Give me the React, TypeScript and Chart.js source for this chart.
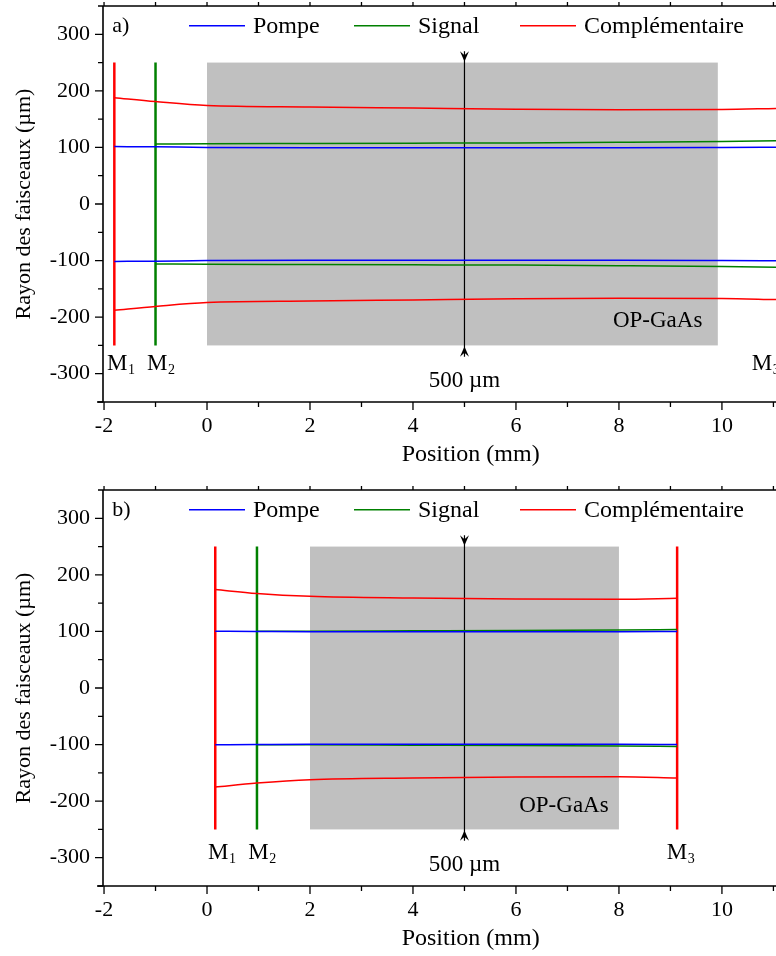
import React, { useEffect, useRef } from "react";
import { Chart, registerables } from "chart.js";

Chart.register(...registerables);

const FONT = '"Liberation Serif", "Times New Roman", serif';

// ---------- axes ----------
const X_MIN = -2.02;
const X_MAX = 11.05;
const Y_MIN = -350;
const Y_MAX = 350;
const X_TITLE = "Position (mm)";
const Y_TITLE = "Rayon des faisceaux (µm)";
const LEGEND_LABELS = ["Pompe", "Signal", "Complémentaire"];

// ---------- panel a ----------
const A_PUMP_X = [-1.8, -1, 0, 2, 4, 6, 8, 10, 11.05];
const A_PUMP_TOP = [101.5, 101, 100, 99.5, 99.5, 99.5, 99.5, 100, 100.5];
const A_PUMP_BOTTOM = [-101.5, -101, -100, -99.5, -99.5, -99.5, -99.5, -100, -100.5];
const A_SIGNAL_X = [-1, 0, 2, 4, 6, 8, 10, 11.05];
const A_SIGNAL_TOP = [106, 106.5, 107, 107.5, 108, 109, 110.5, 112];
const A_SIGNAL_BOTTOM = [-106, -106.5, -107, -107.5, -108, -109, -110.5, -112];
const A_IDLER_X = [-1.8, -1, 0, 2, 4, 6, 8, 10, 11.05];
const A_IDLER_TOP = [188, 181, 174, 171.5, 169.5, 167.5, 166.5, 167, 169];
const A_IDLER_BOTTOM = [-188, -181, -174, -171.5, -169.5, -167.5, -166.5, -167, -169];
const A_MIRROR_X = [-1.8, -1.0];
const A_MIRROR_LABEL_X = [-1.94, -1.165, 10.58];
const A_MIRROR_LABEL_Y = -283;
const A_CRYSTAL = [0, 9.92];
const A_CRYSTAL_LABEL = [9.62, -206];

// ---------- panel b ----------
const B_PUMP_X = [0.16, 0.97, 2, 4, 6, 8, 9.13];
const B_PUMP_TOP = [100.5, 100, 99.5, 99.5, 99.5, 99.5, 100];
const B_PUMP_BOTTOM = [-100.5, -100, -99.5, -99.5, -99.5, -99.5, -100];
const B_SIGNAL_X = [0.97, 2, 4, 6, 8, 9.13];
const B_SIGNAL_TOP = [100.5, 100.5, 101, 101.5, 102.5, 103.5];
const B_SIGNAL_BOTTOM = [-100.5, -100.5, -101, -101.5, -102.5, -103.5];
const B_IDLER_X = [0.16, 0.97, 2, 4, 6, 8, 9.13];
const B_IDLER_TOP = [174, 167, 162, 159, 157.5, 157, 158.5];
const B_IDLER_BOTTOM = [-175, -168, -162, -159, -157.5, -157, -159];
const B_MIRROR_X = [0.16, 0.97, 9.13];
const B_MIRROR_LABEL_X = [0.02, 0.8, 8.93];
const B_MIRROR_LABEL_Y = -292;
const B_CRYSTAL = [2, 8];
const B_CRYSTAL_LABEL = [7.8, -208];

// ---------- shared annotations ----------
const MIRROR_HALF = 250;
const CRYSTAL_HALF = 250;
const MIRROR_SUBS = ["1", "2", "3"];
const MARKER_X = 5;
const MARKER_TIP = 252;
const MARKER_END = 270;
const MARKER_LABEL = "500 µm";
const MARKER_LABEL_Y = -312;
const CRYSTAL_NAME = "OP-GaAs";
const PANEL_LABEL_POS = [-1.84, 315];
const LEGEND_Y = 315;

const BLUE = "#0000ff";
const GREEN = "#008000";
const RED = "#ff0000";

const W = 776;
const H = 484;

function pts(xs: number[], ys: number[]) {
  return xs.map((x, i) => ({ x, y: ys[i] }));
}

function curve(xs: number[], ys: number[], color: string) {
  return {
    data: pts(xs, ys),
    borderColor: color,
    backgroundColor: color,
    borderWidth: 1.5,
    pointRadius: 0,
    showLine: true,
    cubicInterpolationMode: "monotone" as const,
    fill: false,
  };
}

function vline(x: number, y0: number, y1: number, color: string, width: number) {
  return {
    data: [
      { x, y: y0 },
      { x, y: y1 },
    ],
    borderColor: color,
    backgroundColor: color,
    borderWidth: width,
    pointRadius: 0,
    showLine: true,
    fill: false,
  };
}

type PanelCfg = {
  letter: string;
  pump: [number[], number[], number[]];
  signal: [number[], number[], number[]];
  idler: [number[], number[], number[]];
  mirrors: number[];
  mirrorColors: string[];
  mirrorLabelX: number[];
  mirrorLabelY: number;
  crystal: number[];
  crystalLabel: number[];
};

function makePlugin(cfg: PanelCfg) {
  return {
    id: "decor",
    beforeDatasetsDraw(chart: any) {
      const { ctx, scales } = chart;
      const x = scales.x;
      const y = scales.y;
      const x0 = x.getPixelForValue(cfg.crystal[0]);
      const x1 = x.getPixelForValue(cfg.crystal[1]);
      const y0 = y.getPixelForValue(CRYSTAL_HALF);
      const y1 = y.getPixelForValue(-CRYSTAL_HALF);
      ctx.save();
      ctx.fillStyle = "#c0c0c0";
      ctx.fillRect(x0, y0, x1 - x0, y1 - y0);
      ctx.restore();
    },
    afterDatasetsDraw(chart: any) {
      const { ctx, scales, chartArea: ca } = chart;
      const x = scales.x;
      const y = scales.y;
      ctx.save();
      // arrowheads of beam marker
      const mx = x.getPixelForValue(MARKER_X);
      const head = (tipVal: number, endVal: number) => {
        const tip = y.getPixelForValue(tipVal);
        const end = y.getPixelForValue(endVal);
        const dir = Math.sign(tip - end);
        const len = Math.abs(tip - end);
        ctx.beginPath();
        ctx.moveTo(mx, tip);
        ctx.lineTo(mx - 4.5, tip - dir * len);
        ctx.lineTo(mx, tip - dir * len * 0.6);
        ctx.lineTo(mx + 4.5, tip - dir * len);
        ctx.closePath();
        ctx.fillStyle = "#000";
        ctx.fill();
      };
      head(MARKER_TIP, MARKER_END);
      head(-MARKER_TIP, -MARKER_END);

      ctx.fillStyle = "#000";
      ctx.textBaseline = "middle";
      ctx.font = `23px ${FONT}`;
      ctx.textAlign = "center";
      ctx.fillText(MARKER_LABEL, mx, y.getPixelForValue(MARKER_LABEL_Y));

      ctx.textAlign = "right";
      ctx.fillText(
        CRYSTAL_NAME,
        x.getPixelForValue(cfg.crystalLabel[0]),
        y.getPixelForValue(cfg.crystalLabel[1])
      );

      // mirror labels
      cfg.mirrorLabelX.forEach((lx, i) => {
        const px = x.getPixelForValue(lx);
        const py = y.getPixelForValue(cfg.mirrorLabelY);
        ctx.textAlign = "left";
        ctx.font = `23px ${FONT}`;
        ctx.fillText("M", px, py);
        const w = ctx.measureText("M").width;
        ctx.font = `14px ${FONT}`;
        ctx.fillText(MIRROR_SUBS[i], px + w + 0.5, py + 6);
      });

      // panel letter
      ctx.font = `22px ${FONT}`;
      ctx.textAlign = "left";
      ctx.fillText(
        cfg.letter,
        x.getPixelForValue(PANEL_LABEL_POS[0]),
        y.getPixelForValue(PANEL_LABEL_POS[1])
      );

      // legend
      const colors = [BLUE, GREEN, RED];
      const starts = [86, 251, 417];
      const ly = y.getPixelForValue(LEGEND_Y);
      ctx.font = `24px ${FONT}`;
      LEGEND_LABELS.forEach((lab, i) => {
        const sx = ca.left + starts[i];
        ctx.strokeStyle = colors[i];
        ctx.lineWidth = 1.5;
        ctx.beginPath();
        ctx.moveTo(sx, ly);
        ctx.lineTo(sx + 56, ly);
        ctx.stroke();
        ctx.fillStyle = "#000";
        ctx.textAlign = "left";
        ctx.fillText(lab, sx + 64, ly + 1);
      });
      ctx.restore();
    },
    afterDraw(chart: any) {
      const { ctx, scales, chartArea: ca } = chart;
      const x = scales.x;
      const y = scales.y;
      ctx.save();
      ctx.strokeStyle = "#000";
      ctx.lineWidth = 1.6;
      ctx.beginPath();
      ctx.moveTo(ca.left, ca.top);
      ctx.lineTo(ca.right, ca.top);
      ctx.moveTo(ca.left, ca.top);
      ctx.lineTo(ca.left, ca.bottom);
      ctx.moveTo(ca.left - 6, ca.bottom);
      ctx.lineTo(ca.right, ca.bottom);
      ctx.stroke();
      ctx.lineWidth = 1.3;
      ctx.beginPath();
      for (const t of x.ticks) {
        const px = x.getPixelForValue(t.value);
        const major = Math.abs(t.value % 2) < 1e-9;
        ctx.moveTo(px, ca.bottom);
        ctx.lineTo(px, ca.bottom + (major ? 8 : 5));
        ctx.moveTo(px, ca.top);
        ctx.lineTo(px, ca.top - 4);
      }
      for (const t of y.ticks) {
        const py = y.getPixelForValue(t.value);
        const major = Math.abs(t.value % 100) < 1e-9;
        ctx.moveTo(ca.left, py);
        ctx.lineTo(ca.left - (major ? 8 : 5), py);
      }
      ctx.stroke();

      // axis titles
      ctx.fillStyle = "#000";
      ctx.font = `24px ${FONT}`;
      ctx.textAlign = "center";
      ctx.textBaseline = "alphabetic";
      ctx.fillText(X_TITLE, x.getPixelForValue(5.12), ca.bottom + 59);
      ctx.translate(24, (ca.top + ca.bottom) / 2);
      ctx.rotate(-Math.PI / 2);
      ctx.font = `22px ${FONT}`;
      ctx.textBaseline = "middle";
      ctx.fillText(Y_TITLE, 0, 0);
      ctx.restore();
    },
  };
}

function Panel({ cfg }: { cfg: PanelCfg }) {
  const ref = useRef<HTMLCanvasElement | null>(null);
  useEffect(() => {
    if (!ref.current) return;
    const datasets: any[] = [
      curve(cfg.pump[0], cfg.pump[1], BLUE),
      curve(cfg.pump[0], cfg.pump[2], BLUE),
      curve(cfg.signal[0], cfg.signal[1], GREEN),
      curve(cfg.signal[0], cfg.signal[2], GREEN),
      curve(cfg.idler[0], cfg.idler[1], RED),
      curve(cfg.idler[0], cfg.idler[2], RED),
    ];
    cfg.mirrors.forEach((mx, i) => {
      datasets.push(vline(mx, -MIRROR_HALF, MIRROR_HALF, cfg.mirrorColors[i], 2.5));
    });
    datasets.push(vline(MARKER_X, -MARKER_END, MARKER_END, "#000", 1.2));

    const chart = new Chart(ref.current, {
      type: "scatter",
      data: { datasets },
      options: {
        animation: false,
        responsive: false,
        devicePixelRatio: 1,
        layout: { padding: { top: 6, left: 0, right: 0, bottom: 0 } },
        plugins: { legend: { display: false }, tooltip: { enabled: false } },
        scales: {
          x: {
            type: "linear",
            min: X_MIN,
            max: X_MAX,
            grid: { display: false, drawTicks: false },
            border: { display: false },
            ticks: {
              stepSize: 1,
              includeBounds: false,
              autoSkip: false,
              maxRotation: 0,
              padding: 11,
              color: "#000",
              font: { family: FONT, size: 22 },
              callback: (v: any) => (Math.abs(Number(v) % 2) < 1e-9 ? String(v) : ""),
            },
            afterFit: (s: any) => {
              s.height = H - 402;
              s.paddingLeft = 0;
              s.paddingRight = 0;
            },
          },
          y: {
            type: "linear",
            min: Y_MIN,
            max: Y_MAX,
            grid: { display: false, drawTicks: false },
            border: { display: false },
            ticks: {
              stepSize: 50,
              autoSkip: false,
              padding: 13,
              color: "#000",
              font: { family: FONT, size: 22 },
              callback: (v: any) => (Math.abs(Number(v) % 100) < 1e-9 ? String(v) : ""),
            },
            afterFit: (s: any) => {
              s.width = 103;
              s.paddingTop = 0;
              s.paddingBottom = 0;
            },
          },
        },
      } as any,
      plugins: [makePlugin(cfg)],
    });
    return () => chart.destroy();
  }, [cfg]);
  return <canvas ref={ref} width={W} height={H} style={{ display: "block" }} />;
}

const PANEL_A: PanelCfg = {
  letter: "a)",
  pump: [A_PUMP_X, A_PUMP_TOP, A_PUMP_BOTTOM],
  signal: [A_SIGNAL_X, A_SIGNAL_TOP, A_SIGNAL_BOTTOM],
  idler: [A_IDLER_X, A_IDLER_TOP, A_IDLER_BOTTOM],
  mirrors: A_MIRROR_X,
  mirrorColors: [RED, GREEN],
  mirrorLabelX: A_MIRROR_LABEL_X,
  mirrorLabelY: A_MIRROR_LABEL_Y,
  crystal: A_CRYSTAL,
  crystalLabel: A_CRYSTAL_LABEL,
};

const PANEL_B: PanelCfg = {
  letter: "b)",
  pump: [B_PUMP_X, B_PUMP_TOP, B_PUMP_BOTTOM],
  signal: [B_SIGNAL_X, B_SIGNAL_TOP, B_SIGNAL_BOTTOM],
  idler: [B_IDLER_X, B_IDLER_TOP, B_IDLER_BOTTOM],
  mirrors: B_MIRROR_X,
  mirrorColors: [RED, GREEN, RED],
  mirrorLabelX: B_MIRROR_LABEL_X,
  mirrorLabelY: B_MIRROR_LABEL_Y,
  crystal: B_CRYSTAL,
  crystalLabel: B_CRYSTAL_LABEL,
};

export default function App() {
  return (
    <div
      style={{
        position: "fixed",
        left: 0,
        top: 0,
        width: W,
        height: 956,
        overflow: "hidden",
        background: "#fff",
      }}
    >
      <div style={{ position: "absolute", left: 0, top: 0, width: W, height: H }}>
        <Panel cfg={PANEL_A} />
      </div>
      <div style={{ position: "absolute", left: 0, top: H, width: W, height: H }}>
        <Panel cfg={PANEL_B} />
      </div>
    </div>
  );
}
